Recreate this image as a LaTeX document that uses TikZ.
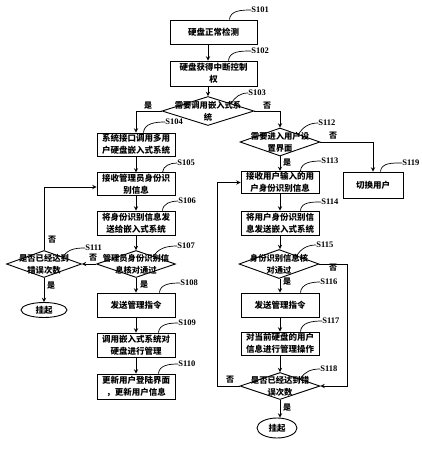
\documentclass[tikz,border=0pt]{standalone}
\usepackage{fontspec}
\setmainfont{Liberation Serif}
\newfontfamily\cjk{Noto Sans CJK SC}
\usetikzlibrary{shapes.geometric}
\begin{document}
\begin{tikzpicture}[x=1pt, y=-1pt, >=stealth, line width=0.9pt,
  box/.style={draw, rectangle, minimum width=78pt, minimum height=24pt, inner sep=1pt,
    align=center, font=\cjk\bfseries\fontsize{8.5}{12}\selectfont},
  dec/.style={draw, diamond, inner sep=0pt, minimum width=80pt, minimum height=28pt},
  dtxt/.style={align=center, inner sep=0pt, font=\cjk\bfseries\fontsize{8.3}{12}\selectfont},
  term/.style={draw, ellipse, minimum width=44pt, minimum height=16pt, inner sep=0pt,
    font=\cjk\bfseries\fontsize{8.5}{10}\selectfont},
  yn/.style={inner sep=0pt, font=\cjk\bfseries\fontsize{8}{9}\selectfont},
  tag/.style={inner sep=0pt, anchor=west, font=\bfseries\fontsize{8.5}{9}\selectfont},
  lead/.style={line width=0.7pt}]
  \useasboundingbox (0,0) rectangle (421,450);
  % 主干
  \node[box, minimum width=87pt] (s101) at (213.5,32) {硬盘正常检测};
  \node[box, minimum width=87pt, minimum height=25pt] (s102) at (213.5,73.5) {硬盘获得中断控制\\权};
  \node[dec, minimum width=92pt, minimum height=29pt,
    label={[dtxt]center:{需要调用嵌入式系\\统}}] (s103) at (208,111) {};
  % 管理员分支
  \node[box, minimum height=23pt] (s104) at (136,144.5) {系统接口调用多用\\户硬盘嵌入式系统};
  \node[box, minimum height=22pt] (s105) at (136,184) {接收管理员身份识\\别信息};
  \node[box] (s106) at (136,223) {将身份识别信息发\\送给嵌入式系统};
  \node[dec, minimum width=79pt, minimum height=27pt,
    label={[dtxt]center:{管理员身份识别信\\息核对通过}}] (s107) at (136,264) {};
  \node[box] (s108) at (136,305) {发送管理指令};
  \node[box] (s109) at (136,345) {调用嵌入式系统对\\硬盘进行管理};
  \node[box, minimum height=25pt] (s110) at (136,386.5) {更新用户登陆界面\\，更新用户信息};
  \node[dec, minimum width=75pt, minimum height=27pt,
    label={[dtxt]center:{是否已经达到\\错误次数}}] (s111) at (44,264) {};
  \node[term, minimum width=46pt, minimum height=15pt] (stop1) at (44,310) {挂起};
  % 用户分支
  \node[dec, label={[dtxt]center:{需要进入用户设\\置界面}}] (s112) at (280,142) {};
  \node[box, minimum height=21pt] (s113) at (280,182.5) {接收用户输入的用\\户身份识别信息};
  \node[box] (s114) at (280,223) {将用户身份识别信\\息发送嵌入式系统};
  \node[dec, minimum height=29pt,
    label={[dtxt]center:{身份识别信息核\\对通过}}] (s115) at (279,264) {};
  \node[box] (s116) at (280,305) {发送管理指令};
  \node[box, minimum height=23pt] (s117) at (280,343.5) {对当前硬盘的用户\\信息进行管理操作};
  \node[dec, minimum height=27pt,
    label={[dtxt]center:{是否已经达到错\\误次数}}] (s118) at (280,386) {};
  \node[term, minimum width=40pt, minimum height=20pt] (stop2) at (277,428) {挂起};
  \node[box, minimum width=60pt, minimum height=26pt] (s119) at (373,185) {切换用户};
  % 连线
  \draw[->] (s101.south -| s103.north) -- (s102.north -| s103.north);
  \draw[->] (s102.south -| s103.north) -- (s103.north);
  \draw[->] (s103.west) -| (s104.north);
  \draw[->] (s103.east) -| (s112.north);
  \draw[->] (s104) -- (s105);
  \draw[->] (s105) -- (s106);
  \draw[->] (s106) -- (s107);
  \draw[->] (s107) -- (s108);
  \draw[->] (s108) -- (s109);
  \draw[->] (s109) -- (s110);
  \draw[->] (s107.west) -- (s111.east);
  \draw[->] (s111.north) |- ([yshift=-3pt]s105.west);
  \draw[->] (s111.south) -- (stop1.north);
  \draw[->] (s112.east) -| (s119.north);
  \draw[->] (s112.south) -- (s113.north -| s112.south);
  \draw[->] (s113.south -| s112.south) -- (s114.north -| s112.south);
  \draw[->] (s114.south -| s112.south) -- (s115.north -| s112.south);
  \draw[->] (s115.south -| s112.south) -- (s116.north -| s112.south);
  \draw[->] (s116) -- (s117);
  \draw[->] (s117) -- (s118);
  \draw[->] (s115.east) -- ++(28,0) |- (s118.east);
  \draw[->] (s118.west) -- ++(-22,0) |- (s113.west);
  \draw[->] (s118.south) -- (stop2.north -| s118.south);
  % 是/否
  \node[yn] (y103) at (148,106) {是};
  \node[yn] (n103) at (267,106) {否};
  \node[yn] (y107) at (144,285) {是};
  \node[yn] (n107) at (93,258) {否};
  \node[yn] (y111) at (51,286) {是};
  \node[yn] (n111) at (52,240) {否};
  \node[yn] (y112) at (287,163) {是};
  \node[yn] (n112) at (333,136) {否};
  \node[yn] (y115) at (287,282) {是};
  \node[yn] (n115) at (333,268) {否};
  \node[yn] (y118) at (287,408) {是};
  \node[yn] (n118) at (230,380) {否};
  % 步骤编号
  \node[tag] (t101) at (251,10) {S101};
  \node[tag] (t102) at (251,51) {S102};
  \node[tag] (t103) at (248,93) {S103};
  \node[tag] (t104) at (165,122) {S104};
  \node[tag] (t105) at (177,163) {S105};
  \node[tag] (t106) at (178,201) {S106};
  \node[tag] (t107) at (177,246) {S107};
  \node[tag] (t108) at (180,283) {S108};
  \node[tag] (t109) at (178,323) {S109};
  \node[tag] (t110) at (178,364) {S110};
  \node[tag] (t111) at (85,248) {S111};
  \node[tag] (t112) at (318,123) {S112};
  \node[tag] (t113) at (321,161) {S113};
  \node[tag] (t114) at (321,202) {S114};
  \node[tag] (t115) at (316,245) {S115};
  \node[tag] (t116) at (320,282) {S116};
  \node[tag] (t117) at (322,321) {S117};
  \node[tag] (t118) at (320,369) {S118};
  \node[tag] (t119) at (402,163) {S119};
  \draw[lead] ([xshift=-28pt]s101.north east) to[out=85,in=180] (t101.west);
  \draw[lead] ([xshift=-29pt]s102.north east) to[out=85,in=180] (t102.west);
  \draw[lead] (s103.north east) to[out=60,in=180] (t103.west);
  \draw[lead] ([xshift=-32pt]s104.north east) to[out=85,in=180] (t104.west);
  \draw[lead] ([xshift=-13pt]s105.north east) to[out=85,in=180] (t105.west);
  \draw[lead] ([xshift=-13pt]s106.north east) to[out=85,in=180] (t106.west);
  \draw[lead] ([xshift=-3pt]s107.north east) to[out=60,in=180] (t107.west);
  \draw[lead] ([xshift=-16pt]s108.north east) to[out=85,in=180] (t108.west);
  \draw[lead] ([xshift=-17pt]s109.north east) to[out=85,in=180] (t109.west);
  \draw[lead] ([xshift=-17pt]s110.north east) to[out=85,in=180] (t110.west);
  \draw[lead] (s111.north east) to[out=60,in=180] (t111.west);
  \draw[lead] ([xshift=-2pt]s112.north east) to[out=60,in=180] (t112.west);
  \draw[lead] ([xshift=-19pt]s113.north east) to[out=85,in=180] (t113.west);
  \draw[lead] ([xshift=-19pt]s114.north east) to[out=85,in=180] (t114.west);
  \draw[lead] ([xshift=-3pt]s115.north east) to[out=60,in=180] (t115.west);
  \draw[lead] ([xshift=-19pt]s116.north east) to[out=85,in=180] (t116.west);
  \draw[lead] ([xshift=-19pt]s117.north east) to[out=85,in=180] (t117.west);
  \draw[lead] (s118.north east) to[out=60,in=180] (t118.west);
  \draw[lead] ([xshift=-23pt]s119.north east) to[out=85,in=180] (t119.west);
\end{tikzpicture}
\end{document}
